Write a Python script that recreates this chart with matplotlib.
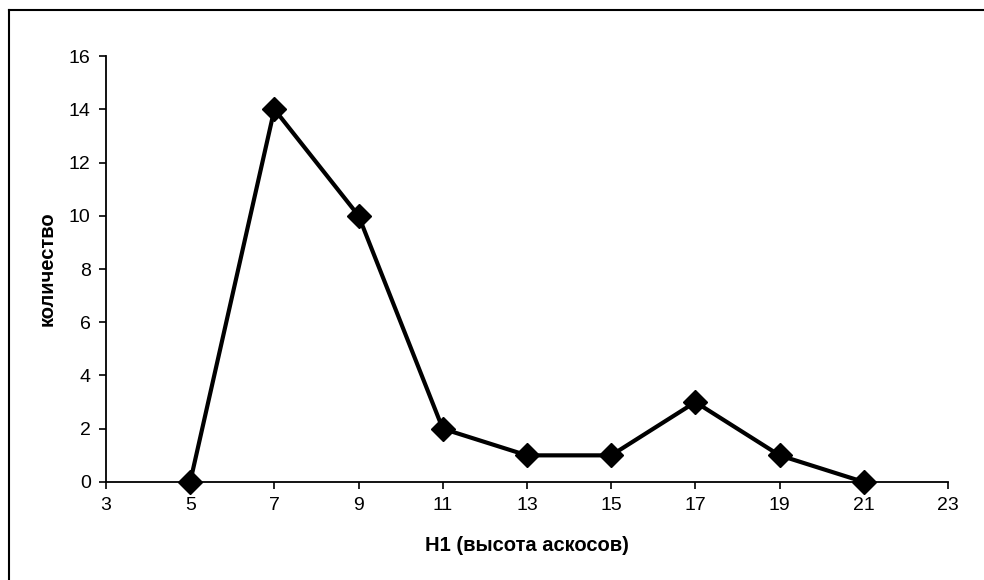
import matplotlib
matplotlib.use("Agg")
import matplotlib.pyplot as plt
from matplotlib.lines import Line2D

x_values = [5, 7, 9, 11, 13, 15, 17, 19, 21]
counts = [0, 14, 10, 2, 1, 1, 3, 1, 0]
x_ticks = [3, 5, 7, 9, 11, 13, 15, 17, 19, 21, 23]
y_ticks = [0, 2, 4, 6, 8, 10, 12, 14, 16]
x_label = "H1 (высота аскосов)"
y_label = "количество"

plt.rcParams['font.family'] = ['Liberation Sans', 'DejaVu Sans']

fig = plt.figure(figsize=(9.84, 5.80), dpi=100)
ax = fig.add_axes([0.1077, 0.169, 0.8557, 0.7344])

ax.plot(x_values, counts, color='black', linewidth=3, marker='D', markersize=12,
        markerfacecolor='black', markeredgecolor='black', clip_on=False, zorder=5)

ax.set_xlim(3, 23)
ax.set_ylim(0, 16)
ax.set_xticks(x_ticks)
ax.set_yticks(y_ticks)
ax.tick_params(axis='both', direction='out', length=5, width=1.2, labelsize=14, colors='black', pad=6)
for s in ['top', 'right']:
    ax.spines[s].set_visible(False)
for s in ['left', 'bottom']:
    ax.spines[s].set_linewidth(1.3)

ax.set_xlabel(x_label, fontsize=14.5, fontweight='bold', labelpad=16)
ax.set_ylabel(y_label, fontsize=14.5, fontweight='bold', labelpad=9)

# figure frame lines (left and top)
fig.add_artist(Line2D([0.0092, 0.0092], [0.0, 0.982], transform=fig.transFigure, color='black', linewidth=1.5))
fig.add_artist(Line2D([0.0092, 1.0], [0.982, 0.982], transform=fig.transFigure, color='black', linewidth=1.5))

fig.savefig("out.png", dpi=100)
